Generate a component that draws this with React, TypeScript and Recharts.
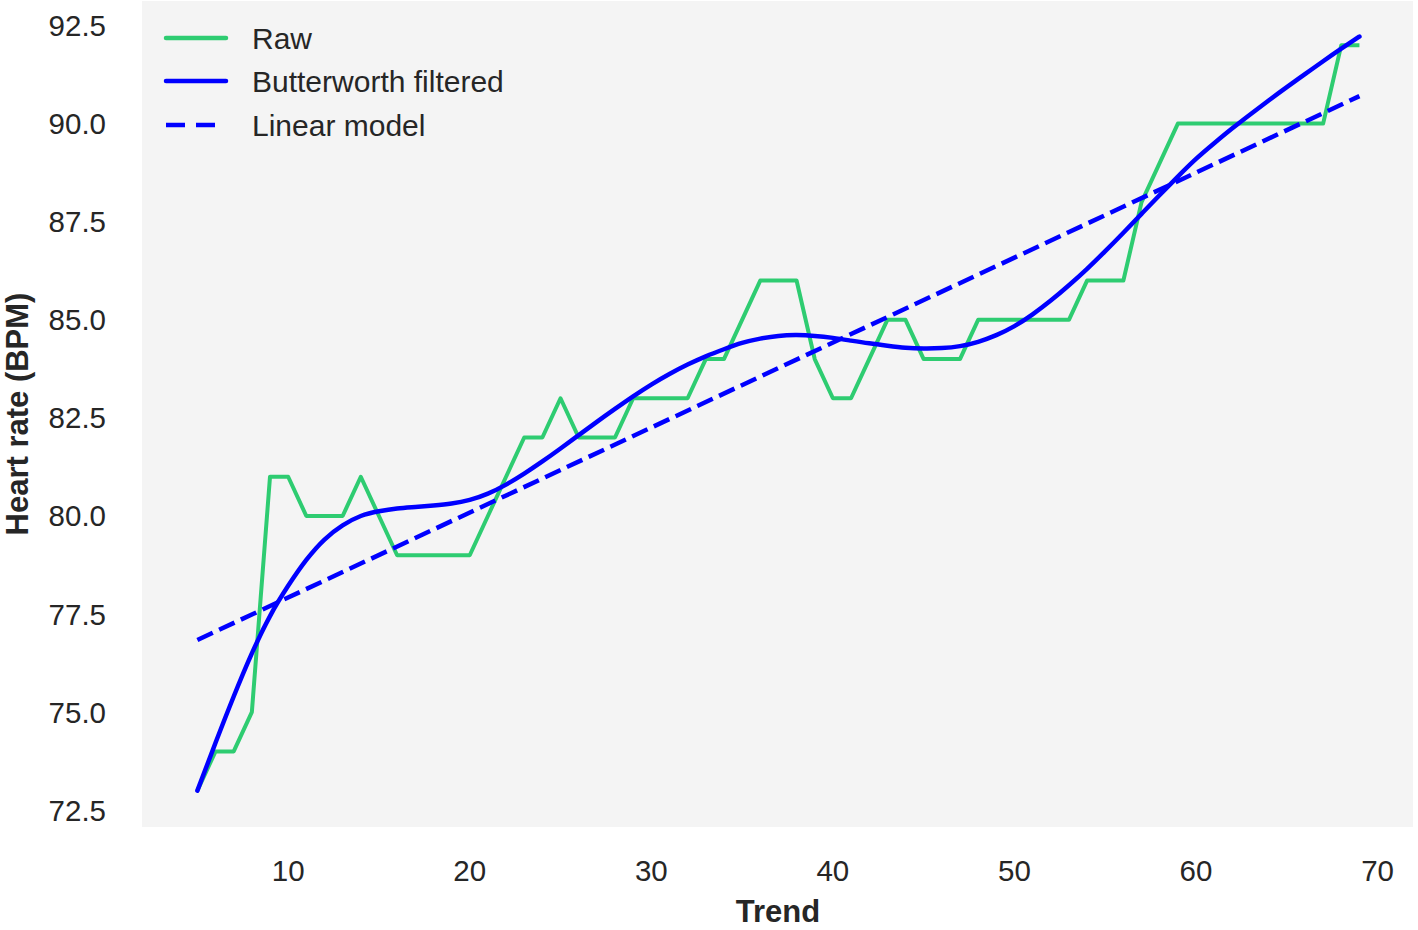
import React from 'react';
import { LineChart, Line, XAxis, YAxis, CartesianGrid } from 'recharts';

const trendX = [5, 6, 7, 8, 9, 10, 11, 12, 13, 14, 15, 16, 17, 18, 19, 20, 21, 22, 23, 24, 25, 26, 27, 28, 29, 30, 31, 32, 33, 34, 35, 36, 37, 38, 39, 40, 41, 42, 43, 44, 45, 46, 47, 48, 49, 50, 51, 52, 53, 54, 55, 56, 57, 58, 59, 60, 61, 62, 63, 64, 65, 66, 67, 68, 69];
const rawHR = [73, 74, 74, 75, 81, 81, 80, 80, 80, 81, 80, 79, 79, 79, 79, 79, 80, 81, 82, 82, 83, 82, 82, 82, 83, 83, 83, 83, 84, 84, 85, 86, 86, 86, 84, 83, 83, 84, 85, 85, 84, 84, 84, 85, 85, 85, 85, 85, 85, 86, 86, 86, 88, 89, 90, 90, 90, 90, 90, 90, 90, 90, 90, 92, 92];
const butterworthHR = [73.0, 74.22, 75.4, 76.5, 77.45, 78.22, 78.88, 79.4, 79.76, 80.0, 80.12, 80.19, 80.23, 80.27, 80.32, 80.41, 80.57, 80.8, 81.08, 81.39, 81.72, 82.06, 82.4, 82.73, 83.05, 83.35, 83.62, 83.86, 84.07, 84.25, 84.41, 84.52, 84.59, 84.61, 84.59, 84.54, 84.47, 84.4, 84.34, 84.29, 84.27, 84.28, 84.33, 84.44, 84.61, 84.84, 85.14, 85.49, 85.88, 86.3, 86.75, 87.22, 87.7, 88.18, 88.65, 89.1, 89.5, 89.88, 90.24, 90.59, 90.93, 91.26, 91.59, 91.91, 92.22];
const linearX = [5, 69];
const linearHR = [76.84, 90.7];
const xTicks = [10, 20, 30, 40, 50, 60, 70];
const yTicks = [72.5, 75.0, 77.5, 80.0, 82.5, 85.0, 87.5, 90.0, 92.5];
const legendLabels = ['Raw', 'Butterworth filtered', 'Linear model'];

const rawData = trendX.map((x, i) => ({ x, y: rawHR[i] }));
const butterData = trendX.map((x, i) => ({ x, y: butterworthHR[i] }));
const linearData = linearX.map((x, i) => ({ x, y: linearHR[i] }));

const GREEN = '#2ecc71';
const BLUE = '#0000ff';
const TEXT = '#262626';
const FONT = '"Liberation Sans", Arial, sans-serif';

export default function App() {
  return (
    <div style={{ position: 'absolute', left: 0, top: 0, width: 1418, height: 930, background: '#ffffff' }}>
      <LineChart width={1418} height={930} margin={{ top: 1, right: 5, left: 0, bottom: 0 }}>
        <CartesianGrid fill="#f4f4f4" stroke="none" horizontal={false} vertical={false} />
        <XAxis
          type="number"
          dataKey="x"
          domain={[1.95, 71.95]}
          ticks={xTicks}
          allowDataOverflow
          axisLine={false}
          tickLine={false}
          tickSize={0}
          tickMargin={33}
          height={103}
          tick={{ fill: TEXT, fontSize: 29.5, fontFamily: FONT }}
        />
        <YAxis
          type="number"
          dataKey="y"
          domain={[72.074, 93.125]}
          ticks={yTicks}
          allowDataOverflow
          axisLine={false}
          tickLine={false}
          tickSize={0}
          tickMargin={36}
          width={142}
          tickFormatter={(v: number) => v.toFixed(1)}
          tick={{ fill: TEXT, fontSize: 29.5, fontFamily: FONT }}
        />
        <Line data={rawData} dataKey="y" type="linear" stroke={GREEN} strokeWidth={4} dot={false} activeDot={false} strokeLinejoin="round" isAnimationActive={false} />
        <Line data={butterData} dataKey="y" type="natural" stroke={BLUE} strokeWidth={4.5} dot={false} activeDot={false} strokeLinecap="round" isAnimationActive={false} />
        <Line data={linearData} dataKey="y" type="linear" stroke={BLUE} strokeWidth={4.5} strokeDasharray="17 7" dot={false} activeDot={false} isAnimationActive={false} />
      </LineChart>
      <svg width={1418} height={930} style={{ position: 'absolute', left: 0, top: 0, pointerEvents: 'none' }}>
        <g fontFamily={FONT} fill={TEXT}>
          <line x1={166} x2={226} y1={38} y2={38} stroke={GREEN} strokeWidth={4.5} strokeLinecap="round" />
          <text x={252} y={38 + 10.5} fontSize={30}>{legendLabels[0]}</text>
          <line x1={166} x2={226} y1={81} y2={81} stroke={BLUE} strokeWidth={4.5} strokeLinecap="round" />
          <text x={252} y={81 + 10.5} fontSize={30}>{legendLabels[1]}</text>
          <line x1={166} x2={226} y1={125} y2={125} stroke={BLUE} strokeWidth={4.5} strokeDasharray="19 11" />
          <text x={252} y={125 + 10.5} fontSize={30}>{legendLabels[2]}</text>
          <text x={778} y={922} fontSize={31} fontWeight="bold" textAnchor="middle">Trend</text>
          <text transform="translate(28,414) rotate(-90)" fontSize={31} fontWeight="bold" textAnchor="middle">Heart rate (BPM)</text>
        </g>
      </svg>
    </div>
  );
}
